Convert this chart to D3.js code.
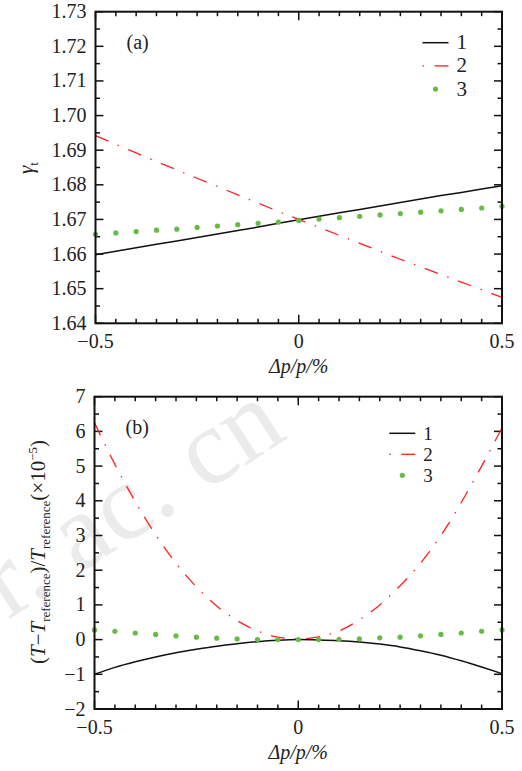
<!DOCTYPE html>
<html>
<head>
<meta charset="utf-8">
<script src="https://cdn.jsdelivr.net/npm/d3@7"></script>
<style>
  body { margin: 0; background: #fff; }
  svg text { font-family: "Liberation Serif", "Times New Roman", Times, serif; fill: #222; }
</style>
</head>
<body>
<div id="chart"></div>
<script>
"use strict";

// x positions shared by every series (Δp/p in %)
var dpp = [-0.5, -0.45, -0.4, -0.35, -0.3, -0.25, -0.2, -0.15, -0.1, -0.05,
           0, 0.05, 0.1, 0.15, 0.2, 0.25, 0.3, 0.35, 0.4, 0.45, 0.5];

// (a) gamma_t
var gammaLine1 = [1.6598, 1.6608, 1.6618, 1.6628, 1.6638, 1.6648, 1.6658, 1.6668, 1.6678, 1.6689, 1.6699,
                  1.6709, 1.6719, 1.6729, 1.6739, 1.6749, 1.6759, 1.6769, 1.6778, 1.6788, 1.6797];
var gammaLine2 = [1.6942, 1.6917, 1.6892, 1.6867, 1.6843, 1.6819, 1.6795, 1.6771, 1.6747, 1.6723, 1.6700,
                  1.6677, 1.6654, 1.6631, 1.6608, 1.6585, 1.6563, 1.6541, 1.6519, 1.6497, 1.6475];
var gammaDots3 = [1.6657, 1.6661, 1.6665, 1.6669, 1.6672, 1.6677, 1.6681, 1.6685, 1.6689, 1.6692, 1.6697,
                  1.6701, 1.6705, 1.6709, 1.6713, 1.6717, 1.6721, 1.6725, 1.6729, 1.6733, 1.6738];

// (b) (T - T_reference)/T_reference, x1e-5
var periodLine1 = [-1.0, -0.80, -0.64, -0.50, -0.38, -0.28, -0.19, -0.12, -0.06, -0.02, 0,
                   -0.01, -0.03, -0.07, -0.13, -0.21, -0.32, -0.45, -0.61, -0.79, -0.98];
var periodLine2 = [6.25, 5.05, 3.98, 3.02, 2.20, 1.52, 0.97, 0.55, 0.25, 0.07, 0.02,
                   0.08, 0.25, 0.57, 1.00, 1.55, 2.20, 3.00, 3.95, 5.00, 6.10];
var periodDots3 = [0.28, 0.24, 0.19, 0.15, 0.11, 0.07, 0.04, 0.02, 0.0, 0.0, 0.0,
                   0.0, 0.01, 0.02, 0.05, 0.07, 0.11, 0.15, 0.19, 0.24, 0.28];

var xTicksMajor = [-0.5, 0, 0.5];
var xTickLabels = ["\u22120.5", "0", "0.5"];
var gammaTicks = [1.64, 1.65, 1.66, 1.67, 1.68, 1.69, 1.70, 1.71, 1.72, 1.73];
var periodTicks = [-2, -1, 0, 1, 2, 3, 4, 5, 6, 7];
var legendLabels = ["1", "2", "3"];

var width = 522, height = 771;
var redDash = "14,10,1.5,10";
var fontSize = "20px";

var svg = d3.select("#chart").append("svg")
    .attr("width", width)
    .attr("height", height);

// faint watermark behind everything
svg.append("text")
    .attr("transform", "translate(8,620) rotate(-33)")
    .style("font-size", "108px")
    .style("fill", "#ebebeb")
    .text("r. ac. cn");

var fmtMinus = function (v, digits) {
    var s = d3.format("." + digits + "f")(Math.abs(v));
    return (v < 0 ? "\u2212" : "") + s;
};

var drawPanel = function (opt) {
    var x = d3.scaleLinear().domain([-0.5, 0.5]).range([opt.left, opt.right]);
    var y = d3.scaleLinear().domain(opt.yDomain).range([opt.bottom, opt.top]);
    var g = svg.append("g");

    // minor ticks (every 0.05 on x, half step on y), pointing inward
    var xMinor = d3.range(-0.5, 0.5001, 0.05).map(function (d) { return Math.round(d * 100) / 100; });
    var yStep = opt.yTicks[1] - opt.yTicks[0];
    var yMinor = d3.range(opt.yDomain[0], opt.yDomain[1] + yStep / 4, yStep / 2);

    var ticks = g.append("g").attr("stroke", "#111").attr("stroke-width", 1.5);
    xMinor.forEach(function (d) {
        var len = xTicksMajor.indexOf(d) >= 0 ? 8.5 : 4.5;
        ticks.append("line").attr("x1", x(d)).attr("x2", x(d))
            .attr("y1", opt.bottom).attr("y2", opt.bottom - len);
        ticks.append("line").attr("x1", x(d)).attr("x2", x(d))
            .attr("y1", opt.top).attr("y2", opt.top + len);
    });
    yMinor.forEach(function (d, i) {
        var len = i % 2 === 0 ? 8 : 4.5;
        ticks.append("line").attr("x1", opt.left).attr("x2", opt.left + len)
            .attr("y1", y(d)).attr("y2", y(d));
        ticks.append("line").attr("x1", opt.right).attr("x2", opt.right - len)
            .attr("y1", y(d)).attr("y2", y(d));
    });

    // series
    var pts = function (vals) { return vals.map(function (v, i) { return [dpp[i], v]; }); };
    var line = d3.line().x(function (d) { return x(d[0]); }).y(function (d) { return y(d[1]); });
    if (opt.curve) line.curve(d3.curveMonotoneX);

    g.append("path").datum(pts(opt.s2))
        .attr("d", line).attr("fill", "none")
        .attr("stroke", "#ff2020").attr("stroke-width", 1.3)
        .attr("stroke-dasharray", redDash);
    g.append("path").datum(pts(opt.s1))
        .attr("d", line).attr("fill", "none")
        .attr("stroke", "#111").attr("stroke-width", 1.5);
    g.selectAll("circle.s3").data(pts(opt.s3)).enter().append("circle")
        .attr("class", "s3")
        .attr("cx", function (d) { return x(d[0]); })
        .attr("cy", function (d) { return y(d[1]); })
        .attr("r", 2.6)
        .attr("fill", "#66bb44");

    // frame
    g.append("rect")
        .attr("x", opt.left).attr("y", opt.top)
        .attr("width", opt.right - opt.left).attr("height", opt.bottom - opt.top)
        .attr("fill", "none").attr("stroke", "#111").attr("stroke-width", 2);

    // tick labels
    g.selectAll("text.xt").data(xTicksMajor).enter().append("text")
        .attr("x", function (d) { return x(d); })
        .attr("y", opt.bottom + 25)
        .attr("text-anchor", "middle")
        .style("font-size", fontSize)
        .text(function (d, i) { return xTickLabels[i]; });
    g.selectAll("text.yt").data(opt.yTicks).enter().append("text")
        .attr("x", opt.left - 9)
        .attr("y", function (d) { return y(d) + 6.5; })
        .attr("text-anchor", "end")
        .style("font-size", fontSize)
        .text(function (d) { return fmtMinus(d, opt.digits); });

    // x axis title  Δp/p/%
    var xt = g.append("text")
        .attr("x", x(0)).attr("y", opt.bottom + 50)
        .attr("text-anchor", "middle")
        .style("font-size", fontSize)
        .style("font-style", "italic");
    xt.append("tspan").text("\u0394p");
    xt.append("tspan").text("/p/%");

    // panel letter
    g.append("text")
        .attr("x", opt.left + 31).attr("y", opt.top + 37)
        .style("font-size", fontSize)
        .text(opt.letter);

    // legend
    var lg = g.append("g").attr("transform", "translate(" + opt.legX + "," + opt.legY + ")");
    legendLabels.forEach(function (lab, i) {
        var ly = i * opt.legGap;
        if (i === 0) {
            lg.append("line").attr("x1", 0).attr("x2", 26).attr("y1", ly).attr("y2", ly)
                .attr("stroke", "#111").attr("stroke-width", 1.5);
        } else if (i === 1) {
            lg.append("line").attr("x1", 0).attr("x2", 1.5).attr("y1", ly).attr("y2", ly)
                .attr("stroke", "#ff2020").attr("stroke-width", 1.3);
            lg.append("line").attr("x1", 12).attr("x2", 26).attr("y1", ly).attr("y2", ly)
                .attr("stroke", "#ff2020").attr("stroke-width", 1.3);
        } else {
            lg.append("circle").attr("cx", 13).attr("cy", ly).attr("r", 2.6).attr("fill", "#66bb44");
        }
        lg.append("text").attr("x", 34).attr("y", ly + 6.5)
            .style("font-size", opt.legFont)
            .text(lab);
    });

    return g;
};

drawPanel({
    left: 95.5, right: 502, top: 11.7, bottom: 323.3,
    yDomain: [1.64, 1.73], yTicks: gammaTicks, digits: 2,
    s1: gammaLine1, s2: gammaLine2, s3: gammaDots3, curve: false,
    letter: "(a)", legX: 422.5, legY: 42.7, legGap: 23.2, legFont: "21px"
});

drawPanel({
    left: 94.5, right: 502, top: 396.7, bottom: 709,
    yDomain: [-2, 7], yTicks: periodTicks, digits: 0,
    s1: periodLine1, s2: periodLine2, s3: periodDots3, curve: true,
    letter: "(b)", legX: 389.3, legY: 433.3, legGap: 21, legFont: "19px"
});

// y axis title (a): gamma_t
var ya = svg.append("text")
    .attr("transform", "translate(33,168) rotate(-90)")
    .attr("text-anchor", "middle")
    .style("font-size", "21px");
ya.append("tspan").style("font-style", "italic").text("\u03b3");
ya.append("tspan").attr("dy", 5).style("font-size", "13px").text("t");

// y axis title (b)
var yb = svg.append("text")
    .attr("transform", "translate(45,552) rotate(-90)")
    .attr("text-anchor", "middle")
    .style("font-size", "21px");
yb.append("tspan").text("(");
yb.append("tspan").style("font-style", "italic").text("T");
yb.append("tspan").text("\u2212");
yb.append("tspan").style("font-style", "italic").text("T");
yb.append("tspan").attr("dy", 5).style("font-size", "13px").text("reference");
yb.append("tspan").attr("dy", -5).text(")/");
yb.append("tspan").style("font-style", "italic").text("T");
yb.append("tspan").attr("dy", 5).style("font-size", "13px").text("reference");
yb.append("tspan").attr("dy", -5).text("(\u00d710");
yb.append("tspan").attr("dy", -8).style("font-size", "13px").text("\u22125");
yb.append("tspan").attr("dy", 8).text(")");
</script>
</body>
</html>
